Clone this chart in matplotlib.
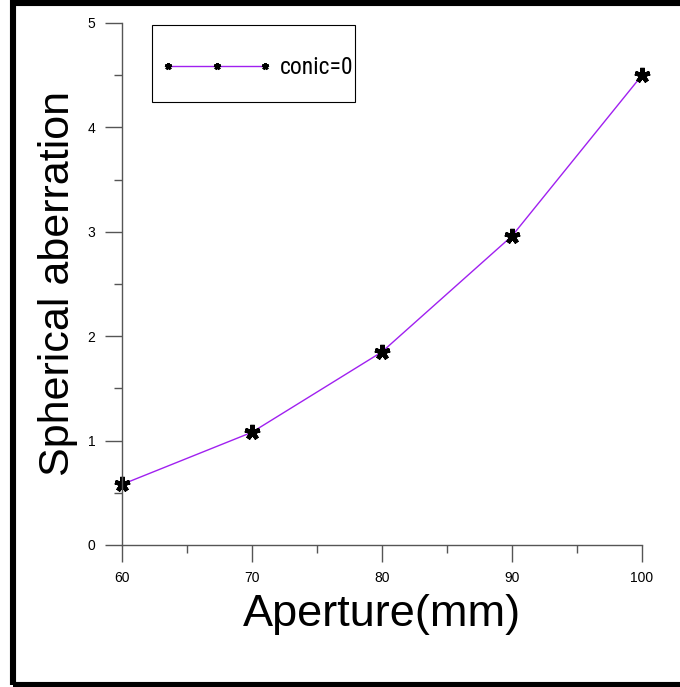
import matplotlib
matplotlib.use("Agg")
import matplotlib.pyplot as plt
from matplotlib.patches import Rectangle
from matplotlib.ticker import MultipleLocator

aperture = [60, 70, 80, 90, 100]
aberration = [0.58, 1.08, 1.85, 2.96, 4.50]
series_label = "conic=0"
x_label = "Aperture(mm)"
y_label = "Spherical aberration"

plt.rcParams['font.family'] = ['Liberation Sans', 'DejaVu Sans']

W, H = 680, 687
fig = plt.figure(figsize=(W / 100, H / 100), dpi=100)
ax = fig.add_axes([122 / W, 1 - 545 / H, 520 / W, 522 / H])

line_color = '#a020f0'
ax.plot(aperture, aberration, color=line_color, lw=1.0,
        marker=(5, 2, 0), ms=11, mec='black', mew=3.2, label=series_label,
        clip_on=False)

ax.set_xlim(60, 100)
ax.set_ylim(0, 5)
ax.xaxis.set_major_locator(MultipleLocator(10))
ax.xaxis.set_minor_locator(MultipleLocator(5))
ax.yaxis.set_major_locator(MultipleLocator(1))
ax.yaxis.set_minor_locator(MultipleLocator(0.5))

spine_color = '#555555'
for s in ['top', 'right']:
    ax.spines[s].set_visible(False)
for s in ['left', 'bottom']:
    ax.spines[s].set_color(spine_color)
    ax.spines[s].set_linewidth(1.0)

ax.tick_params(which='major', direction='out', length=12, width=1.0,
               color=spine_color, labelsize=10, pad=7)
ax.tick_params(which='minor', direction='out', length=6, width=1.0,
               color=spine_color)

ax.set_xlabel(x_label, fontsize=32.5, labelpad=6)
ax.set_ylabel(y_label, fontsize=31, labelpad=7)

# legend: contents via matplotlib legend, frame drawn as a rectangle
leg_fs = 17
fs_px = leg_fs * 100 / 72
leg = ax.legend(loc='center left',
                bbox_to_anchor=((168 - 0.3 * fs_px) / W, 1 - 68 / H),
                bbox_transform=fig.transFigure, numpoints=3, markerscale=0.45,
                frameon=False, borderpad=0, borderaxespad=0,
                handlelength=97 / fs_px + 0.6,
                handletextpad=(15 - 0.3 * fs_px) / fs_px,
                prop={'family': ['Liberation Sans Narrow', 'Roboto Condensed',
                                 'Liberation Sans'],
                      'stretch': 'condensed', 'size': leg_fs})
for h in leg.legend_handles:
    h.set_markeredgewidth(2.0)

fig.patches.append(Rectangle((152 / W, 1 - 102 / H), 203 / W, 77 / H,
                             transform=fig.transFigure, fill=False,
                             edgecolor='black', lw=0.8))

# outer frame
fig.patches.append(Rectangle((13 / W, 2.5 / H), 1.2, 1 - 5 / H,
                             transform=fig.transFigure, fill=False,
                             edgecolor='black', lw=4.4, clip_on=False))

fig.savefig('out.png', dpi=100)
